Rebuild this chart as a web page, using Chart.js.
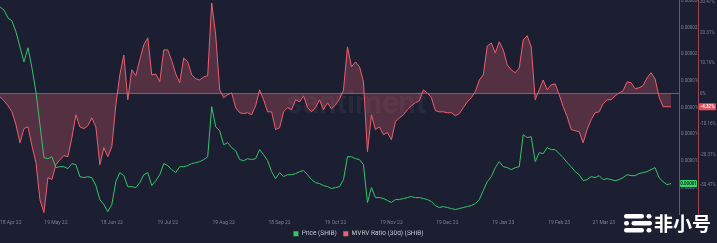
<!DOCTYPE html>
<html>
<head>
<meta charset="utf-8">
<script src="https://cdn.jsdelivr.net/npm/chart.js@4.4.1/dist/chart.umd.min.js"></script>
<style>
  html, body { margin: 0; padding: 0; background: #1c1f31; }
  #wrap { width: 717px; height: 243px; position: relative; }
</style>
</head>
<body>
<div id="wrap"><canvas id="chart"></canvas></div>
<script>
// SHIB price (in millionths of USD) and MVRV 30d (%), one sample about every 2.2 days from 18 Apr 22
const priceMicroUSD = [
  23.56, 23.33, 22.73, 22.51, 21.68, 20.56, 19.44, 20.49, 18.99, 17.19,
  14.72, 12.25, 12.17, 12.32, 11.50, 11.57, 11.57, 11.42, 11.80, 11.72,
  10.82, 10.75, 10.82, 10.75, 10.15, 9.10, 8.73, 8.20, 8.73, 10.45,
  11.12, 10.90, 10.07, 10.07, 10.00, 10.37, 10.97, 11.12, 10.15, 10.52,
  10.97, 11.80, 11.65, 11.35, 11.12, 11.57, 11.57, 11.65, 11.80, 11.87,
  11.95, 12.10, 12.32, 16.07, 14.57, 14.27, 13.22, 13.37, 13.00, 12.77,
  12.10, 12.02, 12.17, 12.10, 12.17, 12.85, 12.47, 12.02, 11.20, 10.67,
  11.12, 10.82, 10.97, 10.97, 11.05, 11.20, 11.27, 10.97, 10.60, 10.37,
  10.30, 10.15, 10.07, 9.93, 10.00, 10.07, 10.60, 12.32, 12.32, 12.17,
  12.10, 11.72, 8.88, 10.00, 9.25, 9.25, 9.18, 9.03, 8.88, 9.10,
  9.10, 9.18, 9.25, 9.33, 9.25, 9.25, 9.18, 9.10, 8.95, 8.65,
  8.50, 8.58, 8.50, 8.43, 8.35, 8.43, 8.50, 8.58, 8.65, 8.80,
  9.10, 9.78, 10.45, 10.82, 11.50, 11.95, 11.57, 11.50, 11.35, 11.50,
  11.57, 13.97, 13.75, 13.82, 11.95, 12.62, 12.55, 13.00, 12.85, 12.85,
  12.55, 12.25, 11.87, 11.57, 11.20, 10.97, 10.52, 10.60, 10.82, 10.75,
  10.90, 10.60, 10.67, 10.60, 10.52, 10.60, 10.75, 10.97, 10.90, 10.90,
  11.05, 11.12, 11.20, 11.35, 11.50, 10.75, 10.45, 10.22, 10.30
];

const mvrvPct = [
  -1.0, -2.3, -4.0, -6.0, -10.3, -16.3, -11.6, -11.0, -17.3, -22.9,
  -35.2, -39.5, -27.9, -28.5, -23.6, -21.9, -20.6, -20.9, -14.6, -7.0,
  -11.0, -11.6, -10.6, -8.0, -11.0, -23.6, -17.9, -20.9, -17.6, -3.7,
  6.3, 12.9, -2.0, 8.0, 6.0, 11.3, 16.3, 18.6, 6.3, 6.6,
  4.0, 14.6, 14.6, 11.0, 6.6, 3.7, 11.9, 10.6, 6.3, 5.0,
  4.6, 5.6, 6.0, 30.2, 19.6, 1.3, -1.3, -0.3, 0.3, -4.6,
  -6.3, -6.6, -6.3, -7.0, -4.0, 1.3, -2.0, -6.0, -6.0, -11.9,
  -11.3, -6.0, -4.6, -5.3, -2.0, -2.7, -0.7, -4.6, -6.0, -4.6,
  -2.0, -5.3, -3.0, -5.0, -3.7, -1.7, 1.3, 15.6, 9.0, 10.6,
  9.0, 4.0, -19.3, -7.0, -11.9, -11.0, -13.6, -12.9, -15.3, -9.3,
  -8.0, -7.0, -5.3, -4.0, -3.0, -2.3, 1.3, 0.3, -1.3, -5.6,
  -6.0, -6.0, -6.3, -6.3, -7.3, -6.6, -4.6, -2.7, -1.3, 0.7,
  4.6, 6.3, 15.9, 16.9, 13.6, 17.3, 14.6, 9.6, 8.0, 7.0,
  8.6, 17.9, 19.3, 15.6, -2.0, 1.3, 4.6, 1.3, 3.0, 3.3,
  -0.3, -4.3, -7.6, -11.9, -12.3, -12.6, -16.3, -11.9, -8.6, -6.3,
  -6.0, -3.3, -2.0, -2.0, -0.7, 0.3, 1.0, 4.0, 3.7, 1.7,
  2.0, 2.7, 5.3, 7.0, 5.0, -1.0, -4.3, -4.3, -4.32
];

const priceTicks = [10, 12, 14, 16, 18, 20, 22, 24];
const priceTickLabels = ['0.00001', '0.000012', '0.000014', '0.000016', '0.000018', '0.00002', '0.000022', '0.000024'];
const mvrvTicks = [30.47, 20.31, 10.16, 0, -10.16, -20.31, -30.47];
const mvrvTickLabels = ['30.47%', '20.31%', '10.16%', '0%', '-10.16%', '-20.31%', '-30.47%'];

// indexes of the samples that carry an x tick label (about one a month)
const xTickIdx = [0, 14, 28, 42, 56, 70, 84, 98, 112, 126, 140, 154];

const MONTHS = ['Jan', 'Feb', 'Mar', 'Apr', 'May', 'Jun', 'Jul', 'Aug', 'Sep', 'Oct', 'Nov', 'Dec'];
const startMs = Date.UTC(2022, 3, 18);
const dayLabels = [];
// two extra empty slots on the right, the series stops short of the axes
for (let i = 0; i < priceMicroUSD.length + 2; i++) {
    const d = new Date(startMs + Math.round(i * 2.19) * 86400000);
    const dd = String(d.getUTCDate()).padStart(2, '0');
    const yy = String(d.getUTCFullYear()).slice(2);
    dayLabels.push(dd + ' ' + MONTHS[d.getUTCMonth()] + ' ' + yy);
}

const GREEN = '#35c46a';
const RED = '#ee5f6c';
const AXIS_TEXT = '#7b8192';

function roundRect(ctx, x, y, w, h, r) {
    ctx.beginPath();
    ctx.moveTo(x + r, y);
    ctx.arcTo(x + w, y, x + w, y + h, r);
    ctx.arcTo(x + w, y + h, x, y + h, r);
    ctx.arcTo(x, y + h, x, y, r);
    ctx.arcTo(x, y, x + w, y, r);
    ctx.closePath();
}

const overlayPlugin = {
    id: 'overlay',
    beforeDatasetsDraw(chart) {
        const { ctx, chartArea } = chart;
        ctx.save();
        ctx.font = '600 31px Roboto';
        ctx.fillStyle = 'rgba(255,255,255,0.05)';
        ctx.textAlign = 'center';
        ctx.textBaseline = 'middle';
        ctx.fillText('santiment', chartArea.left + chartArea.width * 0.525, chartArea.top + chartArea.height * 0.49);
        ctx.restore();
    },
    afterDraw(chart) {
        const { ctx } = chart;
        const yP = chart.scales.yPrice;
        const yM = chart.scales.yMvrv;
        const lastPrice = priceMicroUSD[priceMicroUSD.length - 1];
        const lastMvrv = mvrvPct[mvrvPct.length - 1];

        ctx.save();
        // last value badges
        let y = yP.getPixelForValue(lastPrice);
        ctx.fillStyle = '#3bd46c';
        roundRect(ctx, yP.left + 1, y - 3.5, 17, 7, 1);
        ctx.fill();
        ctx.fillStyle = '#0d2414';
        ctx.font = '600 4.5px Roboto';
        ctx.textAlign = 'center';
        ctx.textBaseline = 'middle';
        ctx.fillText((lastPrice / 1e6).toFixed(5), yP.left + 9.5, y + 0.3);

        y = yM.getPixelForValue(lastMvrv);
        ctx.fillStyle = '#e9505d';
        roundRect(ctx, yM.left + 1, y - 3.5, 17, 7, 1);
        ctx.fill();
        ctx.fillStyle = '#ffffff';
        ctx.fillText(lastMvrv.toFixed(2) + '%', yM.left + 9.5, y + 0.3);

        // site watermark, bottom right
        ctx.fillStyle = '#ffffff';
        roundRect(ctx, 624, 214, 20, 4.5, 2.2); ctx.fill();
        roundRect(ctx, 646.5, 214, 5, 4.5, 2.2); ctx.fill();
        roundRect(ctx, 624, 221, 5, 4.5, 2.2); ctx.fill();
        roundRect(ctx, 631.5, 221, 20.5, 4.5, 2.2); ctx.fill();
        roundRect(ctx, 624, 228, 20, 4.5, 2.2); ctx.fill();
        roundRect(ctx, 646.5, 228, 5, 4.5, 2.2); ctx.fill();
        ctx.font = 'bold 19px "Noto Sans CJK SC"';
        ctx.textAlign = 'left';
        ctx.textBaseline = 'alphabetic';
        ctx.fillText('非小号', 654, 231);
        ctx.restore();
    }
};

const chart = new Chart(document.getElementById('chart'), {
    type: 'line',
    data: {
        labels: dayLabels,
        datasets: [{
            label: 'Price (SHIB)',
            data: priceMicroUSD,
            yAxisID: 'yPrice',
            borderColor: GREEN,
            backgroundColor: GREEN,
            borderWidth: 1,
            pointRadius: 0,
            tension: 0,
            fill: false,
        }, {
            label: 'MVRV Ratio (30d) (SHIB)',
            data: mvrvPct,
            yAxisID: 'yMvrv',
            borderColor: RED,
            backgroundColor: 'rgba(225, 95, 110, 0.28)',
            borderWidth: 1,
            pointRadius: 0,
            tension: 0,
            fill: 'origin',
        }]
    },
    options: {
        responsive: true,
        maintainAspectRatio: false,
        animation: false,
        // the legend keeps 10px of dead space under its row, let it run off the bottom
        layout: { padding: { top: 0, left: 0, right: 0, bottom: -4 } },
        plugins: {
            legend: {
                position: 'bottom',
                labels: {
                    boxWidth: 5,
                    boxHeight: 5,
                    padding: 0,
                    color: '#c5c8d2',
                    font: { size: 6.5, family: 'Roboto' },
                    // no label padding (keeps the row low), so the gap between items is spaces
                    generateLabels: (c) => c.data.datasets.map((ds, i) => ({
                        text: i === 0 ? ds.label + '    ' : ds.label,
                        fillStyle: ds.borderColor,
                        strokeStyle: ds.borderColor,
                        lineWidth: 0,
                        hidden: false,
                        datasetIndex: i,
                        fontColor: '#c5c8d2'
                    }))
                }
            },
            tooltip: { enabled: false }
        },
        scales: {
            x: {
                type: 'category',
                grid: { display: false, drawTicks: false },
                border: { display: false },
                afterFit: (s) => { s.paddingLeft = 0; s.paddingRight = 0; },
                ticks: {
                    autoSkip: false,
                    maxRotation: 0,
                    align: 'inner',
                    padding: 5,
                    color: AXIS_TEXT,
                    font: { size: 5, family: 'Roboto' },
                    callback: function(value, index) {
                        return xTickIdx.includes(index) ? this.getLabelForValue(value) : null;
                    }
                }
            },
            yPrice: {
                position: 'right',
                min: 7.98,
                max: 24.08,
                grid: { display: false, drawTicks: false },
                border: { display: true, color: 'rgba(120, 150, 140, 0.6)' },
                afterBuildTicks: (s) => { s.ticks = priceTicks.map(v => ({ value: v })); },
                afterFit: (s) => { s.width = 19; s.paddingTop = 0; s.paddingBottom = 0; },
                ticks: {
                    padding: 2,
                    color: AXIS_TEXT,
                    font: { size: 4.5, family: 'Roboto' },
                    callback: (v) => priceTickLabels[priceTicks.indexOf(v)]
                }
            },
            yMvrv: {
                position: 'right',
                min: -40.16,
                max: 31.2,
                grid: {
                    drawTicks: false,
                    color: (c) => (c.tick && c.tick.value === 0) ? 'rgba(240, 110, 120, 0.6)' : 'rgba(0,0,0,0)'
                },
                border: { display: true, color: 'rgba(200, 80, 100, 0.75)' },
                afterBuildTicks: (s) => { s.ticks = mvrvTicks.map(v => ({ value: v })); },
                afterFit: (s) => { s.width = 19; s.paddingTop = 0; s.paddingBottom = 0; },
                ticks: {
                    padding: 2,
                    color: AXIS_TEXT,
                    font: { size: 4.5, family: 'Roboto' },
                    callback: (v) => mvrvTickLabels[mvrvTicks.indexOf(v)]
                }
            }
        }
    },
    plugins: [overlayPlugin]
});
</script>
</body>
</html>
